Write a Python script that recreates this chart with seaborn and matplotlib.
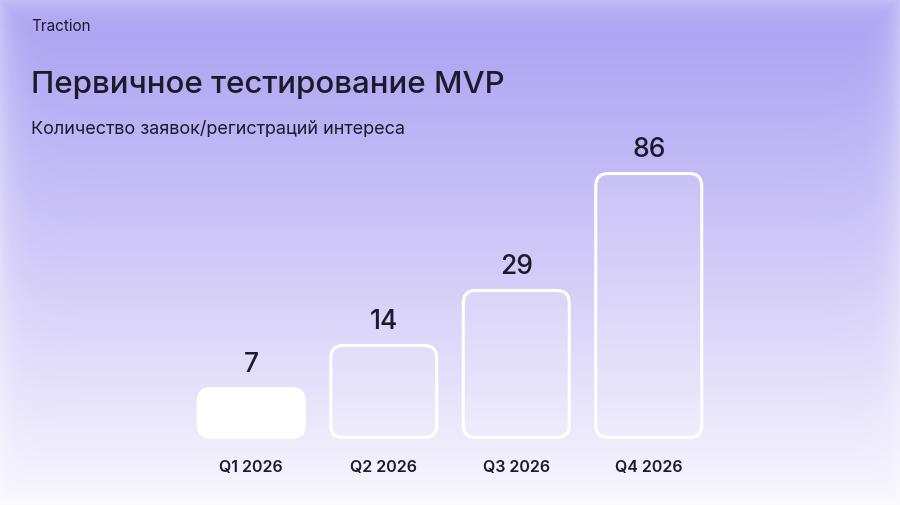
import numpy as np
import pandas as pd
import matplotlib.pyplot as plt
import seaborn as sns
from matplotlib.patches import FancyBboxPatch

sns.set_theme(style="white")
plt.rcParams['font.family'] = ['Inter', 'DejaVu Sans']

# data
quarters = ["Q1 2026", "Q2 2026", "Q3 2026", "Q4 2026"]
requests = [7, 14, 29, 86]
# the bars on the slide are not drawn to scale, these are their drawn heights
bar_height = [50, 93, 148, 265]

df = pd.DataFrame({"quarter": quarters, "requests": requests, "height": bar_height})

W, H = 900, 506
fig = plt.figure(figsize=(W / 100, H / 100), dpi=100)

# background: purple -> white vertical gradient with a soft light border
yy, xx = np.mgrid[0:H, 0:W]
t = yy / (H - 1)
top = np.array([168, 158, 242]) / 255
mid = np.array([208, 201, 248]) / 255
bot = np.array([248, 247, 253]) / 255
tt = t[..., None]
grad = np.where(tt < 0.5, top + (mid - top) * (tt / 0.5), mid + (bot - mid) * ((tt - 0.5) / 0.5))
d = np.minimum.reduce([xx, W - 1 - xx, yy, H - 1 - yy]).astype(float)
edge = (np.exp(-d / 14.0) * 0.35)[..., None]
grad = grad + (1 - grad) * edge
ax_bg = fig.add_axes([0, 0, 1, 1])
ax_bg.imshow(grad, extent=[0, W, H, 0], aspect="auto", zorder=0)
ax_bg.axis("off")

# bar axes, placed in pixels
ax = fig.add_axes([185 / W, 68 / H, 530 / W, 300 / H])
ax.patch.set_alpha(0)
sns.barplot(data=df, x="quarter", y="height", width=0.82, ax=ax)
ax.set_xlim(-0.5, 3.5)
ax.set_ylim(0, 300)

# swap the plain rectangles for rounded ones
rects = list(ax.patches)
for i, p in enumerate(rects):
    x0, y0, w, h = p.get_x(), p.get_y(), p.get_width(), p.get_height()
    p.set_visible(False)
    if i == 0:
        fc, ec = "white", "white"
    else:
        fc, ec = (1, 1, 1, 0.1), "white"
    box = FancyBboxPatch((x0 + 0.01, y0 - 0.5), w - 0.02, h - 1,
                         boxstyle="round,pad=0,rounding_size=0.095",
                         mutation_aspect=132.5, facecolor=fc, edgecolor=ec,
                         linewidth=2.2, zorder=3, clip_on=False)
    ax.add_patch(box)

ax.bar_label(ax.containers[0], labels=[str(v) for v in requests], padding=7,
             fontsize=19, color="#1d1a2b", fontweight="medium")

ax.set_xlabel("")
ax.set_ylabel("")
ax.set_yticks([])
ax.tick_params(axis="x", length=0, pad=16, labelsize=11.5, labelcolor="#1d1a2b")
for lab in ax.get_xticklabels():
    lab.set_fontweight("semibold")
sns.despine(ax=ax, left=True, bottom=True)

# slide texts
ink = "#1d1a2b"
fig.text(31 / W, 1 - 31 / H, "Traction", fontsize=11, color=ink, va="baseline")
fig.text(31 / W, 1 - 93 / H, "Первичное тестирование MVP", fontsize=22.5, color=ink,
         va="baseline", fontweight="medium")
fig.text(31 / W, 1 - 134 / H, "Количество заявок/регистраций интереса", fontsize=13,
         color=ink, va="baseline")

fig.savefig("out.png", dpi=100)
